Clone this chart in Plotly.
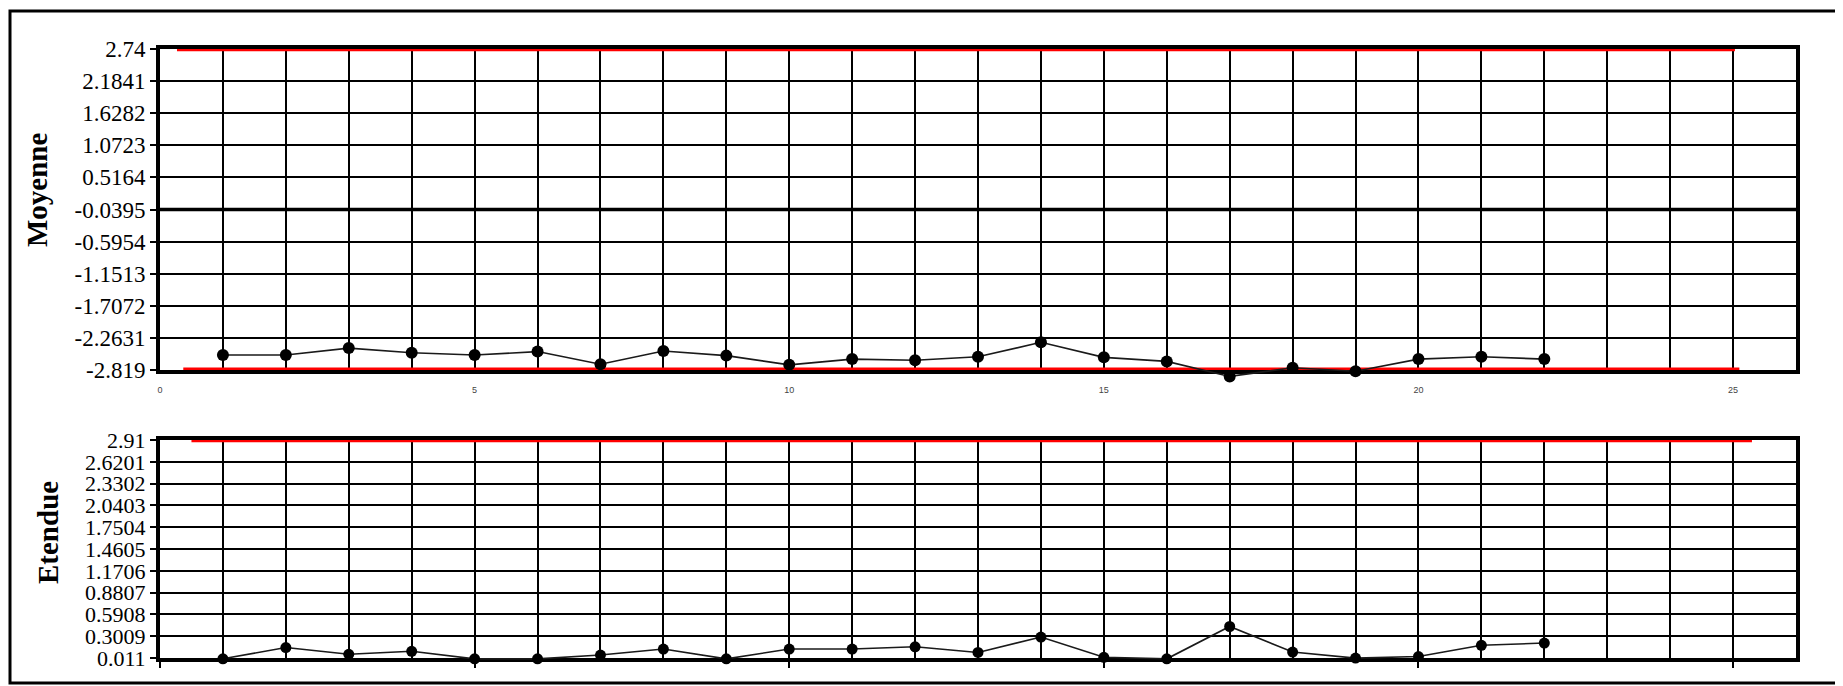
import plotly.graph_objects as go

# ---------------- data ----------------
samples = list(range(1, 23))
moyenne = [-2.56, -2.56, -2.44, -2.52, -2.56, -2.50, -2.72, -2.49, -2.57, -2.73, -2.63,
           -2.65, -2.59, -2.34, -2.60, -2.67, -2.93, -2.78, -2.84, -2.63, -2.59, -2.63]
etendue = [0.00, 0.15, 0.06, 0.10, 0.00, 0.00, 0.05, 0.13, 0.00, 0.13, 0.13,
           0.16, 0.085, 0.29, 0.02, 0.00, 0.43, 0.09, 0.01, 0.03, 0.18, 0.21]

moy_ticks = [2.74, 2.1841, 1.6282, 1.0723, 0.5164, -0.0395, -0.5954, -1.1513, -1.7072, -2.2631, -2.819]
eten_ticks = [2.91, 2.6201, 2.3302, 2.0403, 1.7504, 1.4605, 1.1706, 0.8807, 0.5908, 0.3009, 0.011]
x_ticks = [0, 5, 10, 15, 20, 25]

moy_ucl, moy_cl, moy_lcl = 2.74, -0.0395, -2.819
eten_ucl, eten_min = 2.91, 0.011
moy_ucl_span = [0.27, 25.03]
moy_lcl_span = [0.37, 25.1]
moy_cl_span = [0, 26]
eten_ucl_span = [0.5, 25.3]

# ---------------- geometry (reference pixel coords; page has 8px body margin) ----------------
OFF = 8
W, H = 1843, 686
PL, PR = 160, 1796          # plot left/right (reference px)
PT, PB = 49, 686            # paper top / bottom (reference px)
L, T = PL - OFF, PT - OFF
R = W - (PR - OFF)
B = H - (PB - OFF)
pw, ph = PR - PL, PB - PT

def px(x):
    return (x - PL) / pw

def py(y):
    return (PB - y) / ph

top_px = (49, 370)       # 2.74 .. -2.819
bot_px = (440, 658)      # 2.91 .. 0.011
EXT = 16                 # extra px below for data overflow

moy_scale = (top_px[1] - top_px[0]) / (moy_ucl - moy_lcl)
eten_scale = (bot_px[1] - bot_px[0]) / (eten_ucl - eten_min)

serif = "Liberation Serif, Times New Roman, serif"
fig = go.Figure()

# top chart: center line and limits
fig.add_trace(go.Scatter(x=moy_cl_span, y=[moy_cl, moy_cl], mode="lines",
                         line=dict(color="black", width=3.5), xaxis="x", yaxis="y",
                         cliponaxis=False))
fig.add_trace(go.Scatter(x=moy_ucl_span, y=[moy_ucl, moy_ucl], mode="lines",
                         line=dict(color="#ff0000", width=4.5), xaxis="x", yaxis="y",
                         cliponaxis=False))
fig.add_trace(go.Scatter(x=moy_lcl_span, y=[moy_lcl, moy_lcl], mode="lines",
                         line=dict(color="#ff0000", width=5), xaxis="x", yaxis="y",
                         cliponaxis=False))
# bottom chart limit
fig.add_trace(go.Scatter(x=eten_ucl_span, y=[eten_ucl, eten_ucl], mode="lines",
                         line=dict(color="#ff0000", width=4.5), xaxis="x2", yaxis="y2",
                         cliponaxis=False))
# data (on overflow subplots with identical scale)
fig.add_trace(go.Scatter(x=samples, y=moyenne, mode="lines+markers",
                         line=dict(color="#1a1a1a", width=1.6),
                         marker=dict(color="black", size=12), xaxis="x3", yaxis="y3",
                         cliponaxis=False))
fig.add_trace(go.Scatter(x=samples, y=etendue, mode="lines+markers",
                         line=dict(color="#1a1a1a", width=1.6),
                         marker=dict(color="black", size=11), xaxis="x4", yaxis="y4",
                         cliponaxis=False))

axis_common = dict(showline=True, linecolor="black", linewidth=4, mirror=True,
                   showgrid=True, gridcolor="black", gridwidth=2, zeroline=False,
                   layer="below traces")
hidden = dict(visible=False, showgrid=False, zeroline=False, fixedrange=True)

fig.update_layout(
    width=W, height=H,
    margin=dict(l=L, r=R, t=T, b=B, pad=0, autoexpand=False),
    paper_bgcolor="white", plot_bgcolor="rgba(0,0,0,0)",
    showlegend=False,
    font=dict(family=serif, color="black"),
    xaxis=dict(domain=[0, 1], anchor="y", range=[0, 26], tickvals=x_ticks,
               ticks="", ticklabelstandoff=8,
               tickfont=dict(family="Liberation Sans, Arial", size=9, color="#444"),
               minor=dict(dtick=1, tick0=0, showgrid=True, gridcolor="black", gridwidth=2),
               **axis_common),
    yaxis=dict(domain=[py(top_px[1]), py(top_px[0])], anchor="x",
               range=[moy_lcl, moy_ucl], tickvals=moy_ticks,
               ticktext=[str(v) for v in moy_ticks],
               ticks="outside", ticklen=6, tickwidth=2, tickcolor="black",
               tickfont=dict(family=serif, size=23, color="black"),
               **axis_common),
    xaxis2=dict(domain=[0, 1], anchor="y2", range=[0, 26], tickvals=x_ticks,
                showticklabels=False, ticks="outside", ticklen=6, tickwidth=2, tickcolor="black",
                minor=dict(dtick=1, tick0=0, showgrid=True, gridcolor="black", gridwidth=2),
                **axis_common),
    yaxis2=dict(domain=[py(bot_px[1]), py(bot_px[0])], anchor="x2",
                range=[eten_min, eten_ucl], tickvals=eten_ticks,
                ticktext=[str(v) for v in eten_ticks],
                ticks="outside", ticklen=6, tickwidth=2, tickcolor="black",
                tickfont=dict(family=serif, size=22, color="black"),
                **axis_common),
    xaxis3=dict(domain=[0, 1], anchor="y3", range=[0, 26], **hidden),
    yaxis3=dict(domain=[py(top_px[1] + EXT), py(top_px[0])], anchor="x3",
                range=[moy_lcl - EXT / moy_scale, moy_ucl], **hidden),
    xaxis4=dict(domain=[0, 1], anchor="y4", range=[0, 26], **hidden),
    yaxis4=dict(domain=[py(bot_px[1] + EXT), py(bot_px[0])], anchor="x4",
                range=[eten_min - EXT / eten_scale, eten_ucl], **hidden),
    annotations=[
        dict(text="<b>Moyenne</b>", x=px(37), y=py(190), xref="paper", yref="paper",
             textangle=-90, showarrow=False, xanchor="center", yanchor="middle",
             font=dict(family=serif, size=29, color="black")),
        dict(text="<b>Etendue</b>", x=px(48), y=py(533), xref="paper", yref="paper",
             textangle=-90, showarrow=False, xanchor="center", yanchor="middle",
             font=dict(family=serif, size=29, color="black")),
    ],
    shapes=[
        dict(type="rect", xref="paper", yref="paper",
             x0=px(10), x1=px(1840), y0=py(683), y1=py(11),
             line=dict(color="black", width=3), fillcolor="rgba(0,0,0,0)", layer="below"),
    ],
)

fig.write_html("out.html")
